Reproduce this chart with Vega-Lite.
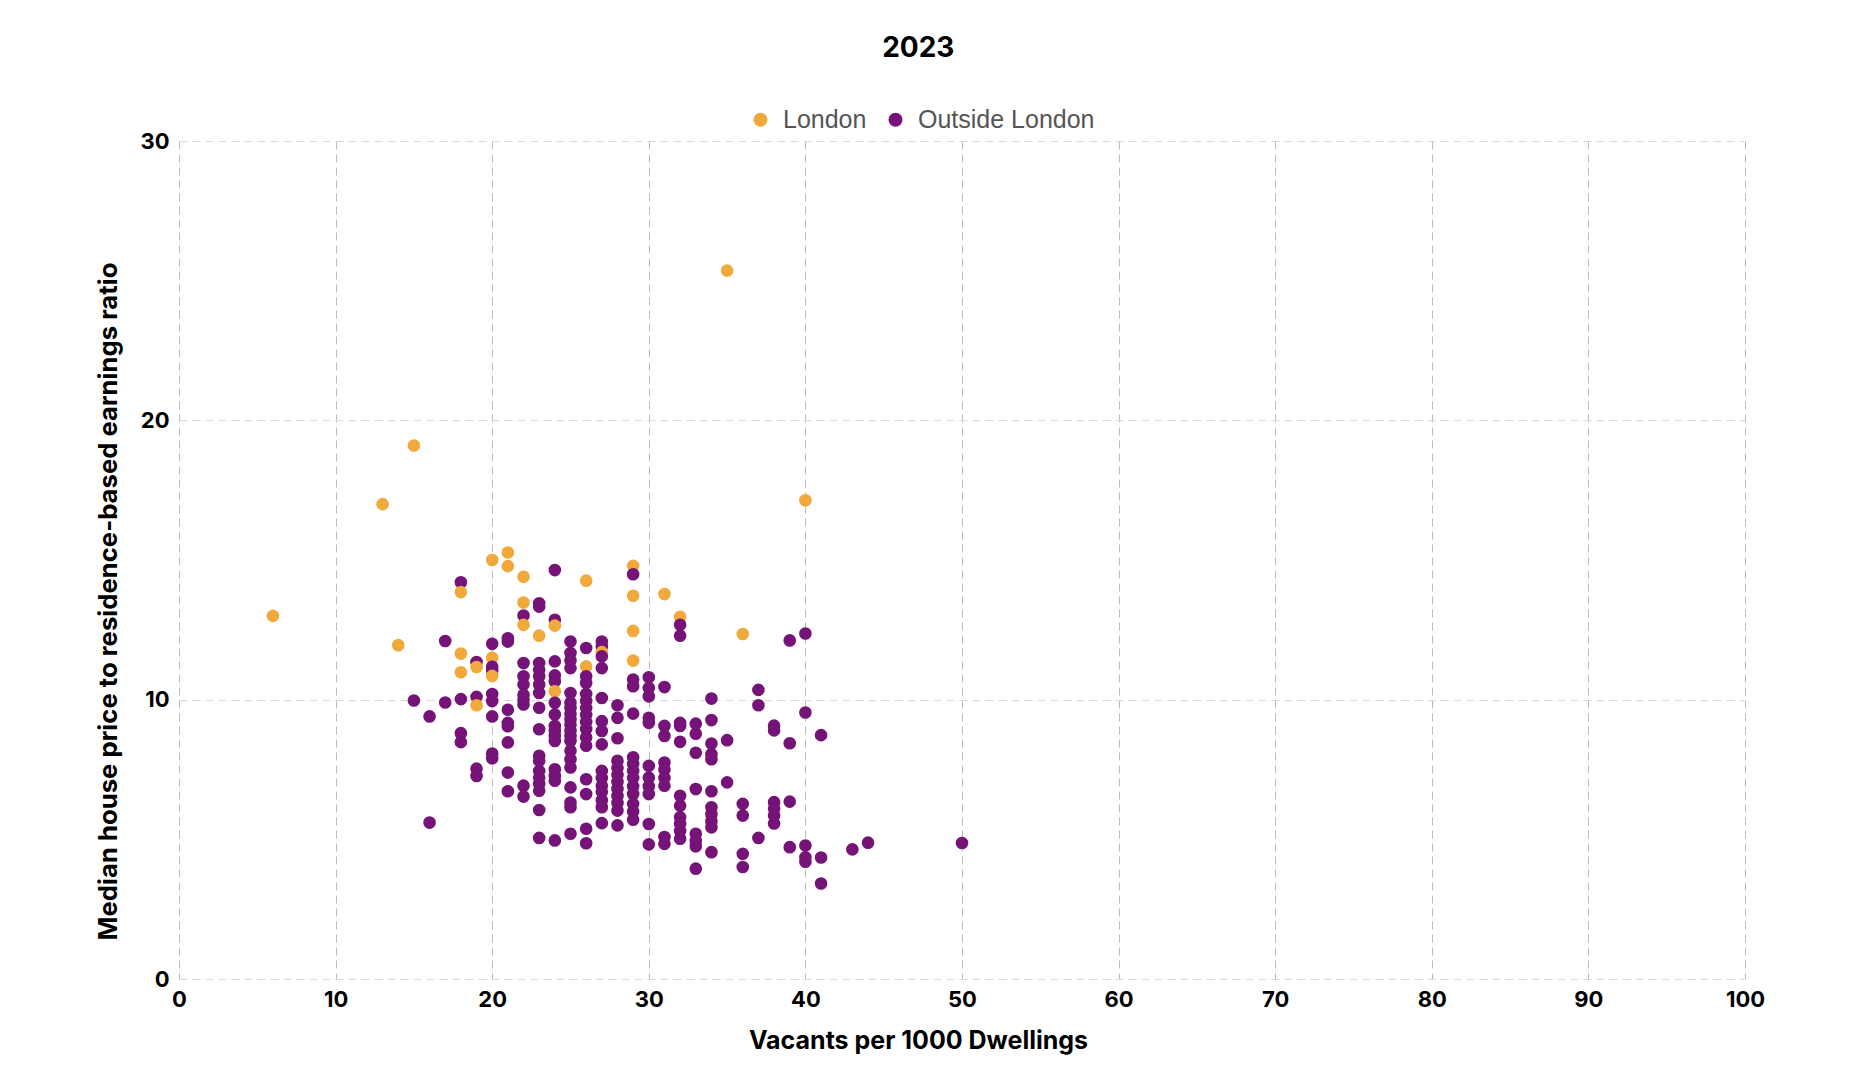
{
  "$schema": "https://vega.github.io/schema/vega-lite/v6.json",
  "autosize": {"type": "none"},
  "width": 1566,
  "height": 838,
  "padding": {"left": 179, "top": 141, "right": 109, "bottom": 105},
  "title": {
    "text": "2023",
    "anchor": "middle",
    "frame": "bounds",
    "font": "Inter",
    "fontSize": 28,
    "fontWeight": "bold",
    "color": "#000000",
    "offset": 44,
    "dx": -12
  },
  "data": {
    "values": [
      {"vacants": 6, "ratio": 13.0, "region": "London"},
      {"vacants": 13, "ratio": 17.0, "region": "London"},
      {"vacants": 14, "ratio": 11.95, "region": "London"},
      {"vacants": 15, "ratio": 19.1, "region": "London"},
      {"vacants": 15, "ratio": 9.97, "region": "Outside London"},
      {"vacants": 16, "ratio": 9.4, "region": "Outside London"},
      {"vacants": 16, "ratio": 5.6, "region": "Outside London"},
      {"vacants": 17, "ratio": 12.1, "region": "Outside London"},
      {"vacants": 17, "ratio": 9.9, "region": "Outside London"},
      {"vacants": 18, "ratio": 14.2, "region": "Outside London"},
      {"vacants": 18, "ratio": 13.85, "region": "London"},
      {"vacants": 18, "ratio": 11.65, "region": "London"},
      {"vacants": 18, "ratio": 10.98, "region": "London"},
      {"vacants": 18, "ratio": 10.02, "region": "Outside London"},
      {"vacants": 18, "ratio": 8.8, "region": "Outside London"},
      {"vacants": 18, "ratio": 8.48, "region": "Outside London"},
      {"vacants": 19, "ratio": 11.35, "region": "Outside London"},
      {"vacants": 19, "ratio": 11.17, "region": "London"},
      {"vacants": 19, "ratio": 10.1, "region": "Outside London"},
      {"vacants": 19, "ratio": 9.8, "region": "London"},
      {"vacants": 19, "ratio": 7.53, "region": "Outside London"},
      {"vacants": 19, "ratio": 7.27, "region": "Outside London"},
      {"vacants": 20, "ratio": 15.0, "region": "London"},
      {"vacants": 20, "ratio": 12.0, "region": "Outside London"},
      {"vacants": 20, "ratio": 11.5, "region": "London"},
      {"vacants": 20, "ratio": 11.18, "region": "Outside London"},
      {"vacants": 20, "ratio": 11.05, "region": "Outside London"},
      {"vacants": 20, "ratio": 10.85, "region": "London"},
      {"vacants": 20, "ratio": 10.2, "region": "Outside London"},
      {"vacants": 20, "ratio": 9.95, "region": "Outside London"},
      {"vacants": 20, "ratio": 9.4, "region": "Outside London"},
      {"vacants": 20, "ratio": 8.07, "region": "Outside London"},
      {"vacants": 20, "ratio": 7.9, "region": "Outside London"},
      {"vacants": 21, "ratio": 15.27, "region": "London"},
      {"vacants": 21, "ratio": 14.78, "region": "London"},
      {"vacants": 21, "ratio": 12.2, "region": "Outside London"},
      {"vacants": 21, "ratio": 12.08, "region": "Outside London"},
      {"vacants": 21, "ratio": 9.64, "region": "Outside London"},
      {"vacants": 21, "ratio": 9.17, "region": "Outside London"},
      {"vacants": 21, "ratio": 9.05, "region": "Outside London"},
      {"vacants": 21, "ratio": 8.47, "region": "Outside London"},
      {"vacants": 21, "ratio": 7.39, "region": "Outside London"},
      {"vacants": 21, "ratio": 6.72, "region": "Outside London"},
      {"vacants": 22, "ratio": 14.4, "region": "London"},
      {"vacants": 22, "ratio": 13.48, "region": "London"},
      {"vacants": 22, "ratio": 13.01, "region": "Outside London"},
      {"vacants": 22, "ratio": 12.68, "region": "London"},
      {"vacants": 22, "ratio": 11.31, "region": "Outside London"},
      {"vacants": 22, "ratio": 10.84, "region": "Outside London"},
      {"vacants": 22, "ratio": 10.54, "region": "Outside London"},
      {"vacants": 22, "ratio": 10.18, "region": "Outside London"},
      {"vacants": 22, "ratio": 10.0, "region": "Outside London"},
      {"vacants": 22, "ratio": 9.83, "region": "Outside London"},
      {"vacants": 22, "ratio": 6.92, "region": "Outside London"},
      {"vacants": 22, "ratio": 6.53, "region": "Outside London"},
      {"vacants": 23, "ratio": 13.45, "region": "Outside London"},
      {"vacants": 23, "ratio": 13.33, "region": "Outside London"},
      {"vacants": 23, "ratio": 12.29, "region": "London"},
      {"vacants": 23, "ratio": 11.31, "region": "Outside London"},
      {"vacants": 23, "ratio": 11.07, "region": "Outside London"},
      {"vacants": 23, "ratio": 10.84, "region": "Outside London"},
      {"vacants": 23, "ratio": 10.54, "region": "Outside London"},
      {"vacants": 23, "ratio": 10.24, "region": "Outside London"},
      {"vacants": 23, "ratio": 9.71, "region": "Outside London"},
      {"vacants": 23, "ratio": 8.94, "region": "Outside London"},
      {"vacants": 23, "ratio": 7.99, "region": "Outside London"},
      {"vacants": 23, "ratio": 7.81, "region": "Outside London"},
      {"vacants": 23, "ratio": 7.45, "region": "Outside London"},
      {"vacants": 23, "ratio": 7.21, "region": "Outside London"},
      {"vacants": 23, "ratio": 6.98, "region": "Outside London"},
      {"vacants": 23, "ratio": 6.74, "region": "Outside London"},
      {"vacants": 23, "ratio": 6.05, "region": "Outside London"},
      {"vacants": 23, "ratio": 5.05, "region": "Outside London"},
      {"vacants": 24, "ratio": 14.64, "region": "Outside London"},
      {"vacants": 24, "ratio": 12.86, "region": "Outside London"},
      {"vacants": 24, "ratio": 12.65, "region": "London"},
      {"vacants": 24, "ratio": 11.37, "region": "Outside London"},
      {"vacants": 24, "ratio": 10.87, "region": "Outside London"},
      {"vacants": 24, "ratio": 10.66, "region": "Outside London"},
      {"vacants": 24, "ratio": 10.3, "region": "London"},
      {"vacants": 24, "ratio": 9.89, "region": "Outside London"},
      {"vacants": 24, "ratio": 9.47, "region": "Outside London"},
      {"vacants": 24, "ratio": 9.06, "region": "Outside London"},
      {"vacants": 24, "ratio": 8.88, "region": "Outside London"},
      {"vacants": 24, "ratio": 8.7, "region": "Outside London"},
      {"vacants": 24, "ratio": 8.52, "region": "Outside London"},
      {"vacants": 24, "ratio": 7.51, "region": "Outside London"},
      {"vacants": 24, "ratio": 7.27, "region": "Outside London"},
      {"vacants": 24, "ratio": 7.1, "region": "Outside London"},
      {"vacants": 24, "ratio": 4.96, "region": "Outside London"},
      {"vacants": 25, "ratio": 12.08, "region": "Outside London"},
      {"vacants": 25, "ratio": 11.67, "region": "Outside London"},
      {"vacants": 25, "ratio": 11.4, "region": "Outside London"},
      {"vacants": 25, "ratio": 11.13, "region": "Outside London"},
      {"vacants": 25, "ratio": 10.24, "region": "Outside London"},
      {"vacants": 25, "ratio": 9.89, "region": "Outside London"},
      {"vacants": 25, "ratio": 9.7, "region": "Outside London"},
      {"vacants": 25, "ratio": 9.5, "region": "Outside London"},
      {"vacants": 25, "ratio": 9.3, "region": "Outside London"},
      {"vacants": 25, "ratio": 9.1, "region": "Outside London"},
      {"vacants": 25, "ratio": 8.9, "region": "Outside London"},
      {"vacants": 25, "ratio": 8.7, "region": "Outside London"},
      {"vacants": 25, "ratio": 8.52, "region": "Outside London"},
      {"vacants": 25, "ratio": 8.17, "region": "Outside London"},
      {"vacants": 25, "ratio": 7.87, "region": "Outside London"},
      {"vacants": 25, "ratio": 7.57, "region": "Outside London"},
      {"vacants": 25, "ratio": 6.86, "region": "Outside London"},
      {"vacants": 25, "ratio": 6.32, "region": "Outside London"},
      {"vacants": 25, "ratio": 6.15, "region": "Outside London"},
      {"vacants": 25, "ratio": 5.2, "region": "Outside London"},
      {"vacants": 26, "ratio": 14.26, "region": "London"},
      {"vacants": 26, "ratio": 11.85, "region": "Outside London"},
      {"vacants": 26, "ratio": 11.19, "region": "London"},
      {"vacants": 26, "ratio": 10.84, "region": "Outside London"},
      {"vacants": 26, "ratio": 10.6, "region": "Outside London"},
      {"vacants": 26, "ratio": 10.2, "region": "Outside London"},
      {"vacants": 26, "ratio": 9.95, "region": "Outside London"},
      {"vacants": 26, "ratio": 9.7, "region": "Outside London"},
      {"vacants": 26, "ratio": 9.45, "region": "Outside London"},
      {"vacants": 26, "ratio": 9.2, "region": "Outside London"},
      {"vacants": 26, "ratio": 8.95, "region": "Outside London"},
      {"vacants": 26, "ratio": 8.65, "region": "Outside London"},
      {"vacants": 26, "ratio": 8.35, "region": "Outside London"},
      {"vacants": 26, "ratio": 7.15, "region": "Outside London"},
      {"vacants": 26, "ratio": 6.62, "region": "Outside London"},
      {"vacants": 26, "ratio": 5.38, "region": "Outside London"},
      {"vacants": 26, "ratio": 4.86, "region": "Outside London"},
      {"vacants": 27, "ratio": 12.08, "region": "Outside London"},
      {"vacants": 27, "ratio": 11.9, "region": "Outside London"},
      {"vacants": 27, "ratio": 11.7, "region": "London"},
      {"vacants": 27, "ratio": 11.55, "region": "Outside London"},
      {"vacants": 27, "ratio": 11.13, "region": "Outside London"},
      {"vacants": 27, "ratio": 10.06, "region": "Outside London"},
      {"vacants": 27, "ratio": 9.23, "region": "Outside London"},
      {"vacants": 27, "ratio": 8.88, "region": "Outside London"},
      {"vacants": 27, "ratio": 8.4, "region": "Outside London"},
      {"vacants": 27, "ratio": 7.45, "region": "Outside London"},
      {"vacants": 27, "ratio": 7.2, "region": "Outside London"},
      {"vacants": 27, "ratio": 6.92, "region": "Outside London"},
      {"vacants": 27, "ratio": 6.7, "region": "Outside London"},
      {"vacants": 27, "ratio": 6.4, "region": "Outside London"},
      {"vacants": 27, "ratio": 6.15, "region": "Outside London"},
      {"vacants": 27, "ratio": 5.58, "region": "Outside London"},
      {"vacants": 28, "ratio": 9.8, "region": "Outside London"},
      {"vacants": 28, "ratio": 9.35, "region": "Outside London"},
      {"vacants": 28, "ratio": 8.62, "region": "Outside London"},
      {"vacants": 28, "ratio": 7.81, "region": "Outside London"},
      {"vacants": 28, "ratio": 7.55, "region": "Outside London"},
      {"vacants": 28, "ratio": 7.3, "region": "Outside London"},
      {"vacants": 28, "ratio": 7.05, "region": "Outside London"},
      {"vacants": 28, "ratio": 6.8, "region": "Outside London"},
      {"vacants": 28, "ratio": 6.55, "region": "Outside London"},
      {"vacants": 28, "ratio": 6.3, "region": "Outside London"},
      {"vacants": 28, "ratio": 6.03, "region": "Outside London"},
      {"vacants": 28, "ratio": 5.5, "region": "Outside London"},
      {"vacants": 29, "ratio": 14.79, "region": "London"},
      {"vacants": 29, "ratio": 14.49, "region": "Outside London"},
      {"vacants": 29, "ratio": 13.72, "region": "London"},
      {"vacants": 29, "ratio": 12.46, "region": "London"},
      {"vacants": 29, "ratio": 11.4, "region": "London"},
      {"vacants": 29, "ratio": 10.72, "region": "Outside London"},
      {"vacants": 29, "ratio": 10.48, "region": "Outside London"},
      {"vacants": 29, "ratio": 9.5, "region": "Outside London"},
      {"vacants": 29, "ratio": 7.94, "region": "Outside London"},
      {"vacants": 29, "ratio": 7.7, "region": "Outside London"},
      {"vacants": 29, "ratio": 7.45, "region": "Outside London"},
      {"vacants": 29, "ratio": 7.2, "region": "Outside London"},
      {"vacants": 29, "ratio": 6.9, "region": "Outside London"},
      {"vacants": 29, "ratio": 6.62, "region": "Outside London"},
      {"vacants": 29, "ratio": 6.27, "region": "Outside London"},
      {"vacants": 29, "ratio": 6.0, "region": "Outside London"},
      {"vacants": 29, "ratio": 5.7, "region": "Outside London"},
      {"vacants": 30, "ratio": 10.8, "region": "Outside London"},
      {"vacants": 30, "ratio": 10.42, "region": "Outside London"},
      {"vacants": 30, "ratio": 10.12, "region": "Outside London"},
      {"vacants": 30, "ratio": 9.35, "region": "Outside London"},
      {"vacants": 30, "ratio": 9.17, "region": "Outside London"},
      {"vacants": 30, "ratio": 7.63, "region": "Outside London"},
      {"vacants": 30, "ratio": 7.21, "region": "Outside London"},
      {"vacants": 30, "ratio": 6.9, "region": "Outside London"},
      {"vacants": 30, "ratio": 6.62, "region": "Outside London"},
      {"vacants": 30, "ratio": 5.55, "region": "Outside London"},
      {"vacants": 30, "ratio": 4.82, "region": "Outside London"},
      {"vacants": 31, "ratio": 13.78, "region": "London"},
      {"vacants": 31, "ratio": 10.45, "region": "Outside London"},
      {"vacants": 31, "ratio": 9.06, "region": "Outside London"},
      {"vacants": 31, "ratio": 8.7, "region": "Outside London"},
      {"vacants": 31, "ratio": 7.75, "region": "Outside London"},
      {"vacants": 31, "ratio": 7.5, "region": "Outside London"},
      {"vacants": 31, "ratio": 7.2, "region": "Outside London"},
      {"vacants": 31, "ratio": 6.92, "region": "Outside London"},
      {"vacants": 31, "ratio": 5.08, "region": "Outside London"},
      {"vacants": 31, "ratio": 4.84, "region": "Outside London"},
      {"vacants": 32, "ratio": 12.97, "region": "London"},
      {"vacants": 32, "ratio": 12.68, "region": "Outside London"},
      {"vacants": 32, "ratio": 12.29, "region": "Outside London"},
      {"vacants": 32, "ratio": 9.17, "region": "Outside London"},
      {"vacants": 32, "ratio": 9.06, "region": "Outside London"},
      {"vacants": 32, "ratio": 8.49, "region": "Outside London"},
      {"vacants": 32, "ratio": 6.56, "region": "Outside London"},
      {"vacants": 32, "ratio": 6.2, "region": "Outside London"},
      {"vacants": 32, "ratio": 5.79, "region": "Outside London"},
      {"vacants": 32, "ratio": 5.55, "region": "Outside London"},
      {"vacants": 32, "ratio": 5.3, "region": "Outside London"},
      {"vacants": 32, "ratio": 5.02, "region": "Outside London"},
      {"vacants": 33, "ratio": 9.14, "region": "Outside London"},
      {"vacants": 33, "ratio": 8.78, "region": "Outside London"},
      {"vacants": 33, "ratio": 8.1, "region": "Outside London"},
      {"vacants": 33, "ratio": 6.8, "region": "Outside London"},
      {"vacants": 33, "ratio": 5.2, "region": "Outside London"},
      {"vacants": 33, "ratio": 4.96, "region": "Outside London"},
      {"vacants": 33, "ratio": 4.75, "region": "Outside London"},
      {"vacants": 33, "ratio": 3.95, "region": "Outside London"},
      {"vacants": 34, "ratio": 10.04, "region": "Outside London"},
      {"vacants": 34, "ratio": 9.27, "region": "Outside London"},
      {"vacants": 34, "ratio": 8.43, "region": "Outside London"},
      {"vacants": 34, "ratio": 8.05, "region": "Outside London"},
      {"vacants": 34, "ratio": 7.87, "region": "Outside London"},
      {"vacants": 34, "ratio": 6.72, "region": "Outside London"},
      {"vacants": 34, "ratio": 6.15, "region": "Outside London"},
      {"vacants": 34, "ratio": 5.9, "region": "Outside London"},
      {"vacants": 34, "ratio": 5.65, "region": "Outside London"},
      {"vacants": 34, "ratio": 5.43, "region": "Outside London"},
      {"vacants": 34, "ratio": 4.54, "region": "Outside London"},
      {"vacants": 35, "ratio": 25.36, "region": "London"},
      {"vacants": 35, "ratio": 8.55, "region": "Outside London"},
      {"vacants": 35, "ratio": 7.04, "region": "Outside London"},
      {"vacants": 36, "ratio": 12.35, "region": "London"},
      {"vacants": 36, "ratio": 6.27, "region": "Outside London"},
      {"vacants": 36, "ratio": 5.85, "region": "Outside London"},
      {"vacants": 36, "ratio": 4.48, "region": "Outside London"},
      {"vacants": 36, "ratio": 4.01, "region": "Outside London"},
      {"vacants": 37, "ratio": 10.35, "region": "Outside London"},
      {"vacants": 37, "ratio": 9.8, "region": "Outside London"},
      {"vacants": 37, "ratio": 5.05, "region": "Outside London"},
      {"vacants": 38, "ratio": 9.07, "region": "Outside London"},
      {"vacants": 38, "ratio": 8.9, "region": "Outside London"},
      {"vacants": 38, "ratio": 6.33, "region": "Outside London"},
      {"vacants": 38, "ratio": 6.1, "region": "Outside London"},
      {"vacants": 38, "ratio": 5.85, "region": "Outside London"},
      {"vacants": 38, "ratio": 5.57, "region": "Outside London"},
      {"vacants": 39, "ratio": 12.12, "region": "Outside London"},
      {"vacants": 39, "ratio": 8.44, "region": "Outside London"},
      {"vacants": 39, "ratio": 6.35, "region": "Outside London"},
      {"vacants": 39, "ratio": 4.72, "region": "Outside London"},
      {"vacants": 40, "ratio": 17.14, "region": "London"},
      {"vacants": 40, "ratio": 12.37, "region": "Outside London"},
      {"vacants": 40, "ratio": 9.54, "region": "Outside London"},
      {"vacants": 40, "ratio": 4.78, "region": "Outside London"},
      {"vacants": 40, "ratio": 4.36, "region": "Outside London"},
      {"vacants": 40, "ratio": 4.2, "region": "Outside London"},
      {"vacants": 41, "ratio": 8.73, "region": "Outside London"},
      {"vacants": 41, "ratio": 4.35, "region": "Outside London"},
      {"vacants": 41, "ratio": 3.42, "region": "Outside London"},
      {"vacants": 43, "ratio": 4.64, "region": "Outside London"},
      {"vacants": 44, "ratio": 4.88, "region": "Outside London"},
      {"vacants": 50, "ratio": 4.87, "region": "Outside London"}
    ]
  },
  "mark": {"type": "circle", "size": 160, "opacity": 1},
  "encoding": {
    "x": {
      "field": "vacants",
      "type": "quantitative",
      "scale": {"domain": [0, 100], "nice": false},
      "axis": {
        "title": "Vacants per 1000 Dwellings",
        "values": [0, 10, 20, 30, 40, 50, 60, 70, 80, 90, 100],
        "gridColor": "#bbbbbb",
        "gridDash": [8, 5],
        "labelPadding": 10,
        "titlePadding": 18,
        "titleX": 739
      }
    },
    "y": {
      "field": "ratio",
      "type": "quantitative",
      "scale": {"domain": [0, 30], "nice": false},
      "axis": {
        "title": "Median house price to residence-based earnings ratio",
        "values": [0, 10, 20, 30],
        "gridColor": "#d9d9d9",
        "gridDash": [8, 5],
        "labelPadding": 10,
        "titlePadding": 18,
        "titleY": 460,
        "titleFontSize": 25.7
      }
    },
    "color": {
      "field": "region",
      "type": "nominal",
      "scale": {
        "domain": ["London", "Outside London"],
        "range": ["#f2a93b", "#751379"]
      },
      "legend": {
        "title": null,
        "orient": "none",
        "direction": "horizontal",
        "legendX": 569,
        "legendY": -34,
        "symbolType": "circle",
        "symbolSize": 195,
        "symbolOpacity": 1,
        "labelFont": "Liberation Sans",
        "labelFontSize": 25,
        "labelColor": "#555555",
        "labelOffset": 10,
        "labelLimit": 400,
        "columnPadding": 16
      }
    }
  },
  "config": {
    "view": {"stroke": null},
    "axis": {
      "domain": false,
      "ticks": false,
      "gridWidth": 1,
      "labelFlush": false,
      "labelFont": "Inter",
      "labelFontSize": 22,
      "labelFontWeight": "bold",
      "labelColor": "#000000",
      "titleFont": "Inter",
      "titleFontSize": 25,
      "titleFontWeight": "bold",
      "titleColor": "#000000"
    }
  }
}
